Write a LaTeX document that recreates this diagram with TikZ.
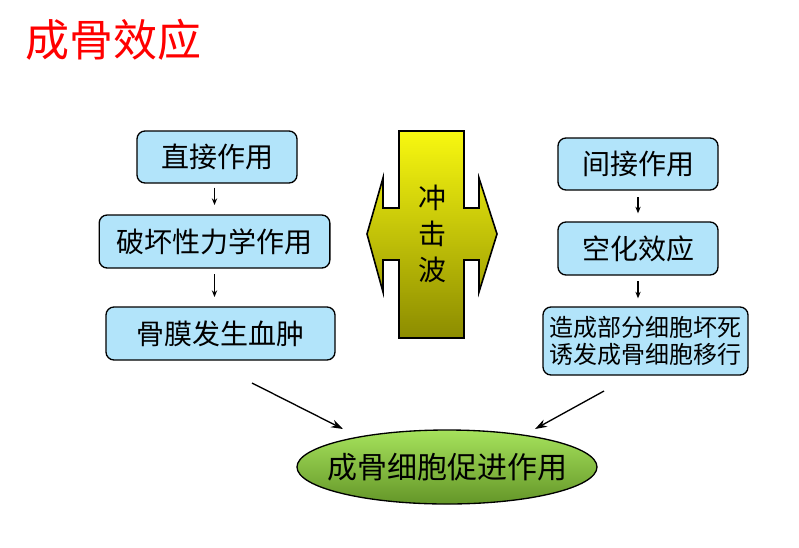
\documentclass[tikz,border=0pt]{standalone}
\usepackage{fontspec}
\setmainfont{Noto Sans CJK SC}
\usetikzlibrary{shapes.geometric,arrows.meta}
\definecolor{boxblue}{RGB}{178,228,250}
\definecolor{titlered}{RGB}{255,0,0}
\definecolor{shocktop}{RGB}{248,248,16}
\definecolor{shockbot}{RGB}{140,140,0}
\definecolor{elltop}{RGB}{166,226,92}
\definecolor{ellbot}{RGB}{100,150,40}
\tikzset{
  infobox/.style={draw=black, line width=1pt, fill=boxblue, rounded corners=6pt, inner sep=0pt, font=\fontsize{21pt}{24pt}\selectfont},
  smallarrow/.style={-{Stealth[length=5pt,width=4pt]}, line width=0.8pt},
  bigarrow/.style={-{Stealth[length=9pt,width=6pt]}, line width=1pt},
}
\begin{document}
\begin{tikzpicture}[x=0.75pt,y=-0.75pt]
\useasboundingbox (0,0) rectangle (799,547);
% title
\node[anchor=west, text=titlered, font=\fontsize{33pt}{36pt}\selectfont, inner sep=0pt] (title) at (25,40) {成骨效应};
% left column
\node[infobox, minimum width=120pt, minimum height=39pt] (b1) at (217,157) {直接作用};
\node[infobox, minimum width=173pt, minimum height=39.75pt] (b2) at (214.5,241.5) {破坏性力学作用};
\node[infobox, minimum width=171.75pt, minimum height=39.75pt] (b3) at (220.5,333.5) {骨膜发生血肿};
\draw[smallarrow, shorten <=3pt, shorten >=7pt] (b1.south -| b2.north) -- (b2.north);
\draw[smallarrow, shorten <=4pt, shorten >=7pt] (b2.south) -- (b2.south |- b3.north);
% right column
\node[infobox, minimum width=120pt, minimum height=39pt] (r1) at (638,164) {间接作用};
\node[infobox, minimum width=120pt, minimum height=39.75pt] (r2) at (638,248.5) {空化效应};
\node[infobox, minimum width=153.75pt, minimum height=51pt, align=left, font=\fontsize{18pt}{20pt}\selectfont] (r3) at (645.5,341) {造成部分细胞坏死\\诱发成骨细胞移行};
\draw[smallarrow, shorten <=5pt, shorten >=6pt] (r1.south) -- (r2.north);
\draw[smallarrow, shorten <=4pt, shorten >=6pt] (r2.south) -- (r2.south |- r3.north);
% shock wave
\shadedraw[top color=shocktop, bottom color=shockbot, draw=black, line width=1.2pt, line join=miter]
 (399,131) -- (464,131) -- (464,208) -- (479,208) -- (479,178) -- (497,234) -- (479,292) -- (479,260) -- (464,260) -- (464,338) -- (399,338) -- (399,260) -- (383,260) -- (383,292) -- (367,234) -- (383,178) -- (383,208) -- (399,208) -- cycle;
\node[align=center, font=\fontsize{21pt}{27pt}\selectfont, inner sep=0pt] (shock) at (432,234) {冲\\击\\波};
% ellipse
\node[ellipse, draw=black, line width=1pt, top color=elltop, bottom color=ellbot, minimum width=225pt, minimum height=55.5pt, inner xsep=-11pt, inner ysep=0pt, font=\fontsize{22.5pt}{24pt}\selectfont] (ell) at (447,467) {成骨细胞促进作用};
\coordinate (la) at (252,383);
\coordinate (lb) at (343,429);
\coordinate (ra) at (604,391);
\coordinate (rb) at (535,429);
\draw[bigarrow] (la) -- (lb);
\draw[bigarrow] (ra) -- (rb);
\end{tikzpicture}
\end{document}
